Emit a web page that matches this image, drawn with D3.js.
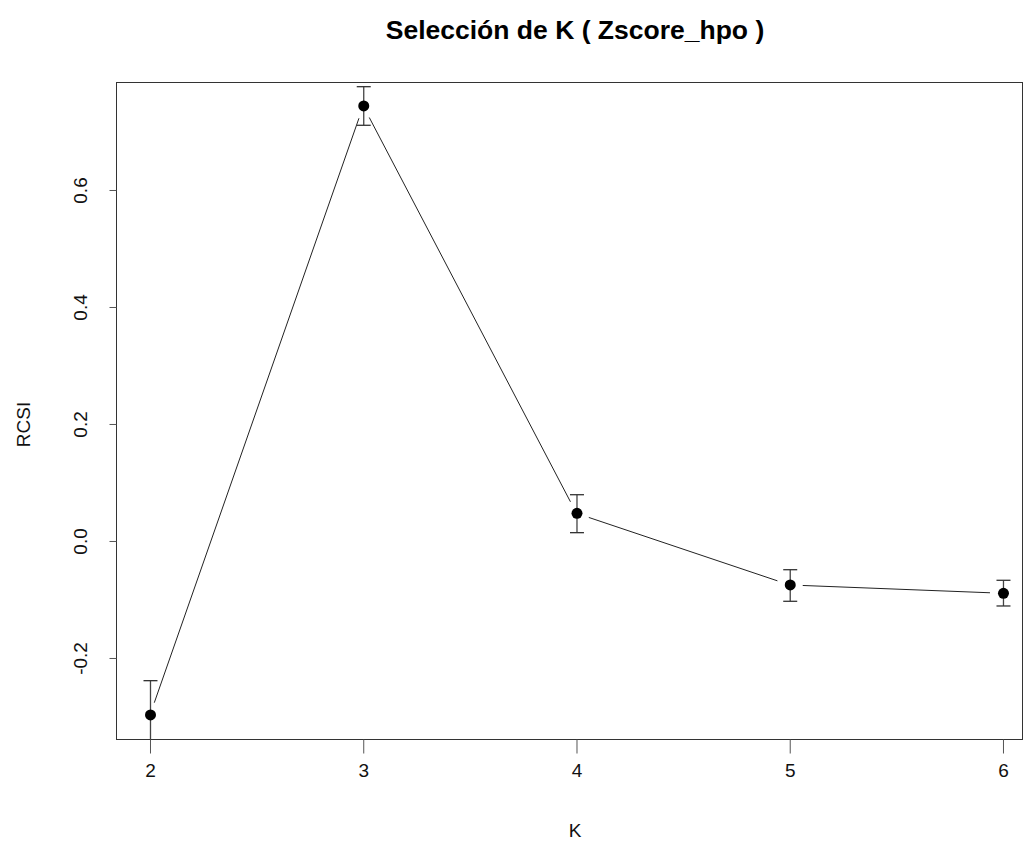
<!DOCTYPE html>
<html>
<head>
<meta charset="utf-8">
<script src="https://cdn.jsdelivr.net/npm/d3@7"></script>
<style>
  html, body { margin: 0; padding: 0; background: #fff; }
  svg { display: block; font-family: "Liberation Sans", Arial, sans-serif; }
</style>
</head>
<body>
<svg id="chart" width="1025" height="843"></svg>
<script>
// Number of clusters tested
const kValues = [2, 3, 4, 5, 6];
// Mean RCSI for each K
const rcsiMean = [-0.2974, 0.7436, 0.0473, -0.0752, -0.0894];
// Error bar ends (mean ± sd)
const rcsiLower = [-0.356, 0.7106, 0.0142, -0.1031, -0.1111];
const rcsiUpper = [-0.2388, 0.7766, 0.0791, -0.0491, -0.0672];
// Tick labels
const xTicks = [2, 3, 4, 5, 6];
const yTicks = [-0.2, 0.0, 0.2, 0.4, 0.6];

const titleText = "Selección de K ( Zscore_hpo )";
const xLabel = "K";
const yLabel = "RCSI";

const svg = d3.select("#chart");
const box = { left: 116, right: 1022, top: 82, bottom: 739 };

const x = d3.scaleLinear().domain([1.8406, 6.0892]).range([box.left, box.right]);
const y = d3.scaleLinear().domain([-0.3385, 0.7846]).range([box.bottom, box.top]);

const data = kValues.map((k, i) => ({ k, m: rcsiMean[i], lo: rcsiLower[i], hi: rcsiUpper[i] }));

// clip marks to the plotting region
svg.append("defs").append("clipPath").attr("id", "plotClip")
  .append("rect")
  .attr("x", box.left).attr("y", box.top)
  .attr("width", box.right - box.left).attr("height", box.bottom - box.top);

// frame
svg.append("rect")
  .attr("x", box.left + 0.5).attr("y", box.top + 0.5)
  .attr("width", box.right - box.left).attr("height", box.bottom - box.top)
  .attr("fill", "none").attr("stroke", "#333").attr("stroke-width", 1);

const fmtY = v => d3.format(".1f")(v).replace("−", "-");

// axes
const xAxis = d3.axisBottom(x).tickValues(xTicks).tickFormat(d3.format("d")).tickSize(14).tickPadding(10);
const gx = svg.append("g").attr("transform", `translate(0,${box.bottom + 0.5})`).call(xAxis);
gx.select(".domain").remove();
gx.selectAll(".tick line").attr("stroke", "#555");
gx.selectAll(".tick text").attr("font-size", 19).attr("fill", "#111")
  .attr("font-family", "Liberation Sans, Arial, sans-serif");

const yAxis = d3.axisLeft(y).tickValues(yTicks).tickFormat(fmtY).tickSize(7).tickPadding(0);
const gy = svg.append("g").attr("transform", `translate(${box.left + 0.5},0)`).call(yAxis);
gy.select(".domain").remove();
gy.selectAll(".tick line").attr("stroke", "#555");
gy.selectAll(".tick text")
  .attr("font-size", 19).attr("fill", "#111")
  .attr("font-family", "Liberation Sans, Arial, sans-serif")
  .attr("text-anchor", "middle")
  .attr("x", 0).attr("dy", null)
  .attr("transform", "translate(-30,0) rotate(-90)");

// connecting line with gaps around the points (type "b")
const gap = 13;
const lines = svg.append("g").attr("clip-path", "url(#plotClip)");
for (let i = 0; i < data.length - 1; i++) {
  const x1 = x(data[i].k), y1 = y(data[i].m);
  const x2 = x(data[i + 1].k), y2 = y(data[i + 1].m);
  const len = Math.hypot(x2 - x1, y2 - y1);
  const ux = (x2 - x1) / len, uy = (y2 - y1) / len;
  lines.append("line")
    .attr("x1", x1 + ux * gap).attr("y1", y1 + uy * gap)
    .attr("x2", x2 - ux * gap).attr("y2", y2 - uy * gap)
    .attr("stroke", "#222").attr("stroke-width", 1);
}

// error bars
const capHalf = 7;
const bars = svg.append("g").attr("clip-path", "url(#plotClip)");
data.forEach(d => {
  const cx = x(d.k) + 0.5;
  bars.append("line")
    .attr("x1", cx).attr("x2", cx).attr("y1", y(d.lo)).attr("y2", y(d.hi))
    .attr("stroke", "#444").attr("stroke-width", 1.3);
  [d.lo, d.hi].forEach(v => {
    bars.append("line")
      .attr("x1", cx - capHalf).attr("x2", cx + capHalf)
      .attr("y1", y(v)).attr("y2", y(v))
      .attr("stroke", "#333").attr("stroke-width", 1.3);
  });
});

// points
svg.append("g").selectAll("circle").data(data).join("circle")
  .attr("cx", d => x(d.k) + 0.5).attr("cy", d => y(d.m))
  .attr("r", 5.5).attr("fill", "#000");

// title and axis labels
svg.append("text").attr("x", 575).attr("y", 39).attr("text-anchor", "middle")
  .attr("font-size", 26.5).attr("font-weight", "bold").attr("fill", "#000").text(titleText);
svg.append("text").attr("x", 575).attr("y", 837).attr("text-anchor", "middle")
  .attr("font-size", 19).attr("fill", "#111").text(xLabel);
svg.append("text").attr("transform", `translate(30,${(box.top + box.bottom) / 2 + 14}) rotate(-90)`)
  .attr("text-anchor", "middle").attr("font-size", 19).attr("fill", "#111").text(yLabel);
</script>
</body>
</html>
